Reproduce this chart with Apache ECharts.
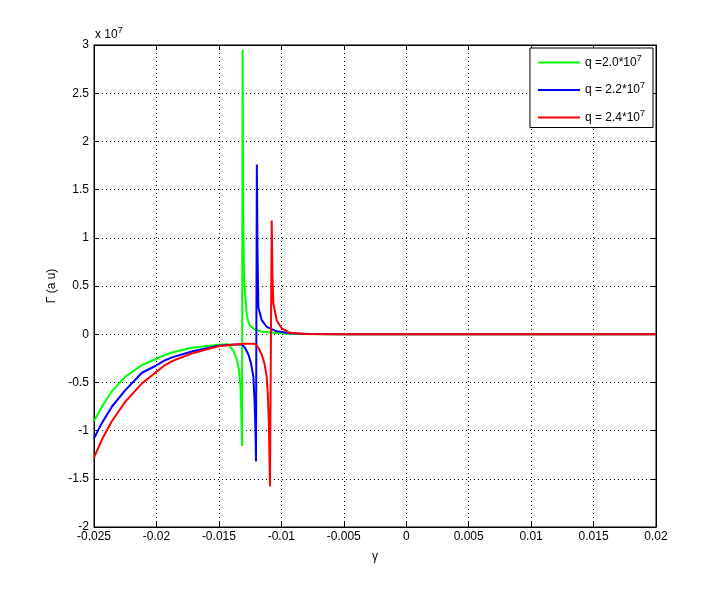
<!DOCTYPE html>
<html><head><meta charset="utf-8">
<script src="https://cdn.jsdelivr.net/npm/echarts@6/dist/echarts.min.js"></script>
<style>html,body{margin:0;padding:0;background:#fff;}#c{width:725px;height:593px;}</style>
</head><body><div id="c"></div>
<script>
// x values (gamma) and Gamma values in units of 1e7
const greenX = [-0.025,-0.02436,-0.02356,-0.02249,-0.02116,-0.02009,-0.01931,-0.01875,-0.01718,-0.01505,-0.01425,-0.01385,-0.01357,-0.01339,-0.01327,-0.01321,-0.01315,-0.01310,-0.01305,-0.01299,-0.01291,-0.01277,-0.01264,-0.01251,-0.01211,-0.01147,-0.01011,-0.0085,-0.005,0.02];
const greenY = [-0.90,-0.75,-0.59,-0.44,-0.32,-0.26,-0.215,-0.19,-0.14,-0.11,-0.105,-0.17,-0.26,-0.37,-0.55,-0.80,-1.16,2.95,1.2,0.6,0.45,0.2,0.13,0.09,0.045,0.025,0.01,0.003,0,0];
const blueX = [-0.025,-0.02436,-0.02356,-0.02249,-0.02116,-0.02009,-0.01931,-0.01875,-0.01718,-0.01505,-0.01397,-0.01317,-0.01291,-0.01264,-0.01243,-0.01224,-0.01214,-0.01207,-0.01203,-0.01196,-0.01191,-0.01184,-0.01157,-0.01117,-0.01037,-0.00931,-0.0077,-0.005,0.02];
const blueY = [-1.08,-0.92,-0.75,-0.58,-0.40,-0.33,-0.27,-0.24,-0.18,-0.12,-0.11,-0.105,-0.14,-0.21,-0.30,-0.44,-0.70,-1.0,-1.32,1.76,0.9,0.28,0.145,0.076,0.03,0.01,0.002,0,0];
const redX = [-0.025,-0.02436,-0.02356,-0.02249,-0.02116,-0.02009,-0.01931,-0.01875,-0.01718,-0.01505,-0.01397,-0.01291,-0.01211,-0.01184,-0.01157,-0.01136,-0.01117,-0.01107,-0.01099,-0.01091,-0.01077,-0.01071,-0.01064,-0.01037,-0.00997,-0.00931,-0.0081,-0.005,0.02];
const redY = [-1.28,-1.09,-0.90,-0.70,-0.51,-0.40,-0.32,-0.28,-0.20,-0.125,-0.11,-0.10,-0.10,-0.14,-0.21,-0.30,-0.44,-0.65,-0.95,-1.58,1.18,0.6,0.32,0.145,0.06,0.014,0.003,0,0];
const seriesNames = ['q =2.0*10^7','q = 2.2*10^7','q = 2.4*10^7'];
const seriesColors = ['#00ff00','#0000ff','#ff0000'];
const xTicks = {min:-0.025,max:0.02,interval:0.005};
const yTicks = {min:-2,max:3,interval:0.5};

const zip = (xs, ys) => xs.map((x, i) => [x, ys[i]]);
const datasets = [zip(greenX, greenY), zip(blueX, blueY), zip(redX, redY)];
const font = 'Liberation Sans, Arial, sans-serif';
const gridLine = {show:true,lineStyle:{color:'#000',type:[1,3],width:1}};
const chart = echarts.init(document.getElementById('c'));
chart.setOption({
  animation:false,
  backgroundColor:'#fff',
  grid:{left:94,right:69,top:45,bottom:66,show:true,borderColor:'#000',borderWidth:1,backgroundColor:'#fff'},
  legend:{
    orient:'vertical', right:72, top:48, itemWidth:42, itemHeight:2, itemGap:13,
    icon:'rect', backgroundColor:'#fff', borderColor:'#000', borderWidth:1,
    padding:[6,8,4,8],
    data:seriesNames,
    formatter: n => n.replace('^7','{sup|7}'),
    textStyle:{fontFamily:font,fontSize:12,color:'#000',rich:{sup:{fontSize:9,verticalAlign:'top',padding:[0,0,8,0],fontFamily:font}}}
  },
  xAxis:[{
    type:'value', min:xTicks.min, max:xTicks.max, interval:xTicks.interval,
    name:'γ', nameLocation:'middle', nameGap:24, nameTextStyle:{fontFamily:font,fontSize:12,color:'#000'},
    axisLine:{onZero:false,lineStyle:{color:'#000'}},
    axisTick:{inside:true,length:5,lineStyle:{color:'#000'}},
    axisLabel:{fontFamily:font,fontSize:12,color:'#000',margin:4,formatter:v=>String(parseFloat(v.toFixed(4)))},
    splitLine:gridLine
  },{
    type:'value', position:'top', min:xTicks.min, max:xTicks.max, interval:xTicks.interval,
    axisLine:{onZero:false,lineStyle:{color:'#000'}}, axisTick:{inside:true,length:5,lineStyle:{color:'#000'}},
    axisLabel:{show:false}, splitLine:{show:false}
  }],
  yAxis:[{
    type:'value', min:yTicks.min, max:yTicks.max, interval:yTicks.interval,
    name:'Γ (a u)', nameLocation:'middle', nameGap:27, nameRotate:90,
    nameTextStyle:{fontFamily:font,fontSize:12,color:'#000'},
    axisLine:{onZero:false,lineStyle:{color:'#000'}},
    axisTick:{inside:true,length:5,lineStyle:{color:'#000'}},
    axisLabel:{fontFamily:font,fontSize:12,color:'#000',margin:5},
    splitLine:gridLine
  },{
    type:'value', position:'right', min:yTicks.min, max:yTicks.max, interval:yTicks.interval,
    axisLine:{onZero:false,lineStyle:{color:'#000'}}, axisTick:{inside:true,length:5,lineStyle:{color:'#000'}},
    axisLabel:{show:false}, splitLine:{show:false}
  }],
  graphic:[{type:'text',left:95,top:26,style:{text:'x 10{s|7}',fill:'#000',font:'12px '+font,rich:{s:{fontSize:9,verticalAlign:'top',padding:[0,0,8,0]}}}}],
  series: seriesNames.map((n,i)=>({
    name:n, type:'line', data:datasets[i], showSymbol:false, symbol:'none',
    color:seriesColors[i], lineStyle:{width:2,color:seriesColors[i]}, z:2+i, clip:true
  }))
});
</script></body></html>
